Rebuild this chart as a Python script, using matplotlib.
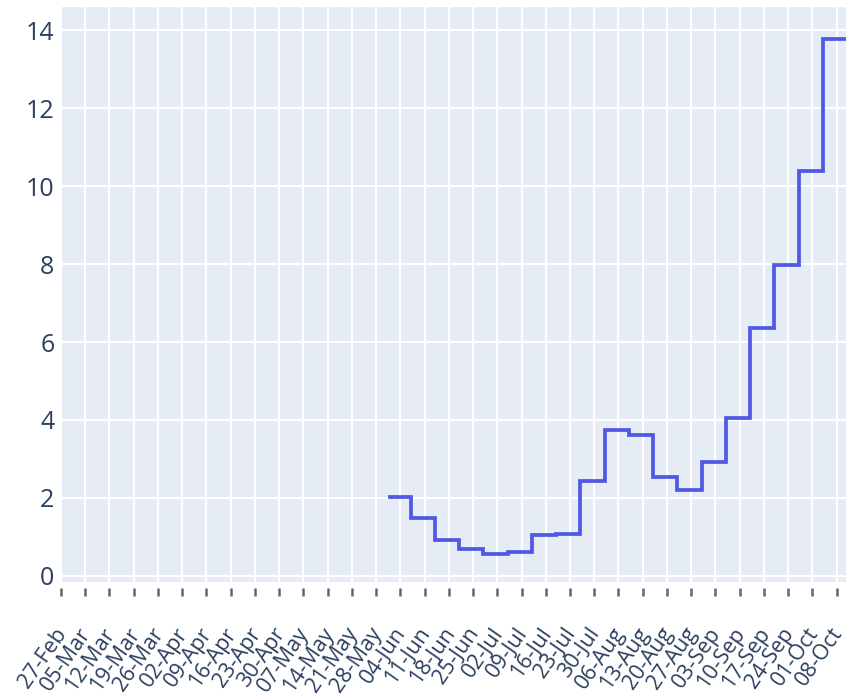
import matplotlib
matplotlib.use("Agg")
import matplotlib.pyplot as plt
import matplotlib.dates as mdates
import matplotlib.transforms as mtransforms
import pandas as pd

# weekly values, drawn as a horizontal-then-vertical step line
dates = ['2020-06-01', '2020-06-07', '2020-06-14', '2020-06-21', '2020-06-28',
         '2020-07-05', '2020-07-12', '2020-07-19', '2020-07-26', '2020-08-02',
         '2020-08-09', '2020-08-16', '2020-08-23', '2020-08-30', '2020-09-06',
         '2020-09-13', '2020-09-20', '2020-09-27', '2020-10-04', '2020-10-11']
values = [2.03, 1.49, 0.92, 0.69, 0.565,
          0.61, 1.05, 1.08, 2.42, 3.74,
          3.62, 2.53, 2.20, 2.91, 4.04,
          6.36, 7.98, 10.39, 13.77, 13.77]

tick_dates = pd.date_range('2020-02-27', '2020-10-08', freq='7D')
y_ticks = [0, 2, 4, 6, 8, 10, 12, 14]

plt.rcParams['font.family'] = ['Open Sans', 'DejaVu Sans']

fig = plt.figure(figsize=(8.46, 7), dpi=100)
ax = fig.add_axes([60 / 846, 118 / 700, 786 / 846, 575 / 700])
ax.set_facecolor('#E5ECF6')

ax.plot(pd.to_datetime(dates), values, drawstyle='steps-post',
        color='#5058E4', lw=2.7, solid_joinstyle='miter')

ax.set_xlim(pd.Timestamp('2020-02-26 17:00'), pd.Timestamp('2020-10-10 17:00'))
ax.set_ylim(-0.16, 14.6)
ax.set_yticks(y_ticks)
ax.set_xticks(tick_dates)
ax.xaxis.set_major_formatter(mdates.DateFormatter('%d-%b'))

ax.grid(color='white', lw=1.5)
ax.set_axisbelow(True)
for s in ax.spines.values():
    s.set_visible(False)
ax.spines['bottom'].set_position(('outward', 4))

ax.tick_params(axis='y', length=0, pad=4, labelsize=18, labelcolor='#2a3f5f')
ax.tick_params(axis='x', length=6, width=1.8, color='#666666', pad=20,
               labelsize=15.5, labelcolor='#2a3f5f')
shift = mtransforms.ScaledTranslation(-7 / 100, 0, fig.dpi_scale_trans)
for lab in ax.get_xticklabels():
    lab.set_rotation(55)
    lab.set_ha('right')
    lab.set_rotation_mode('anchor')
    lab.set_transform(lab.get_transform() + shift)

fig.savefig('out.png', dpi=100)
